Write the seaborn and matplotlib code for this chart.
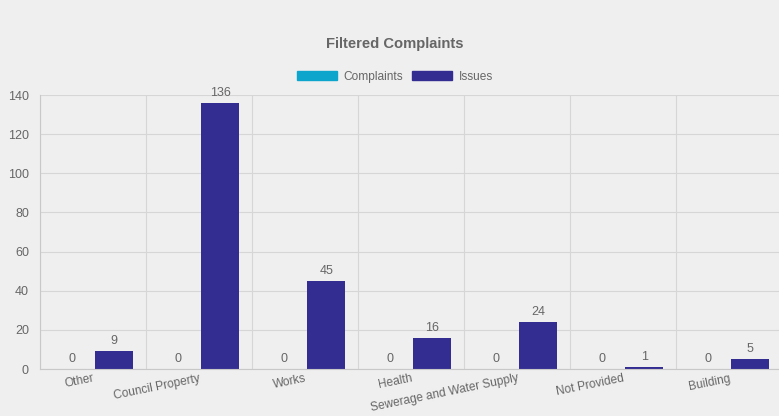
import matplotlib
matplotlib.use("Agg")
import matplotlib.pyplot as plt
import matplotlib.patches as mpatches
from matplotlib.ticker import FixedLocator, MultipleLocator
import numpy as np
import pandas as pd
import seaborn as sns

categories = ["Other", "Council Property", "Works", "Health",
              "Sewerage and Water Supply", "Not Provided", "Building"]
complaints = [0, 0, 0, 0, 0, 0, 0]
issues = [9, 136, 45, 16, 24, 1, 5]
series_names = ["Complaints", "Issues"]
series_colors = ["#0ea5cd", "#332c91"]

BG = "#efefef"
GRID = "#d6d6d6"
TXT = "#666666"

sns.set_theme(style="white")
plt.rcParams["font.family"] = ["Liberation Sans", "DejaVu Sans"]

df = pd.DataFrame({
    "category": categories * 2,
    "value": complaints + issues,
    "series": [series_names[0]] * len(categories) + [series_names[1]] * len(categories),
})

fig = plt.figure(figsize=(7.79, 4.16), dpi=100, facecolor=BG)
ax = fig.add_axes([40 / 779, 47 / 416, 742 / 779, 274 / 416])
ax.set_facecolor(BG)

sns.barplot(data=df, x="category", y="value", hue="series",
            order=categories, hue_order=series_names,
            palette=series_colors, width=0.8, gap=0.1,
            saturation=1, legend=False, linewidth=0, ax=ax)

for cont in ax.containers:
    ax.bar_label(cont, padding=3, color=TXT, fontsize=9)

ax.set_xlim(-0.5, len(categories) - 0.5)
ax.set_ylim(0, 140)
ax.yaxis.set_major_locator(MultipleLocator(20))
ax.xaxis.set_minor_locator(FixedLocator(np.arange(-0.5, len(categories), 1.0)))

ax.grid(False)
ax.grid(axis="y", which="major", color=GRID, linewidth=0.8)
ax.grid(axis="x", which="minor", color=GRID, linewidth=0.8)
ax.set_axisbelow(True)

ax.tick_params(axis="x", which="major", length=0, pad=2.5, labelsize=8.6, labelcolor=TXT)
ax.tick_params(axis="x", which="minor", length=6, color=GRID, width=0.8)
ax.tick_params(axis="y", which="major", length=6, color=GRID, width=0.8,
               pad=2, labelsize=9, labelcolor=TXT)
for lab in ax.get_xticklabels():
    lab.set_rotation(11.5)
    lab.set_ha("right")
    lab.set_va("top")
    lab.set_rotation_mode("anchor")

for side in ["top", "right"]:
    ax.spines[side].set_visible(False)
for side in ["left", "bottom"]:
    ax.spines[side].set_color("#c8c8c8")
    ax.spines[side].set_linewidth(0.8)

ax.set_xlabel("")
ax.set_ylabel("")

fig.text(0.507, 1 - 44 / 416, "Filtered Complaints", ha="center", va="center",
         fontsize=10.6, fontweight="bold", color=TXT)

handles = [mpatches.Patch(facecolor=c, edgecolor=c, label=n)
           for n, c in zip(series_names, series_colors)]
fig.legend(handles=handles, loc="center", bbox_to_anchor=(0.507, 1 - 77 / 416),
           ncol=2, frameon=False, fontsize=8.6, labelcolor=TXT,
           handlelength=3.3, handleheight=0.8, handletextpad=0.55,
           columnspacing=0.8, borderaxespad=0)

fig.savefig("out.png", dpi=100, facecolor=BG)
